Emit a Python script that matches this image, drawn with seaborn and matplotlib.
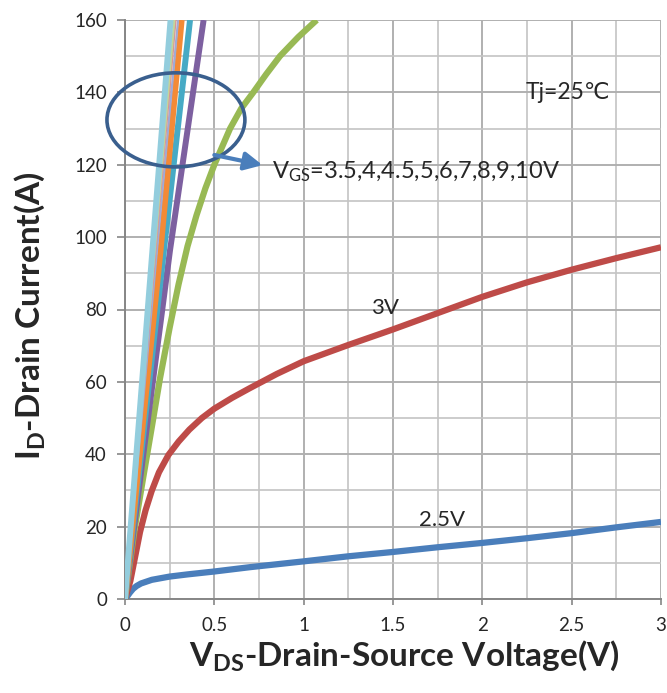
import numpy as np
import pandas as pd
import matplotlib
matplotlib.use("Agg")
import matplotlib.pyplot as plt
import seaborn as sns
from matplotlib.patches import Ellipse
from matplotlib.ticker import MultipleLocator

# ---------------- data ----------------
vgs_labels = ["2.5V", "3V", "3.5V", "4V", "4.5V", "5V", "6V", "7V", "8V", "9V", "10V"]

v_25 = [0, 0.012, 0.028, 0.045, 0.065, 0.09, 0.15, 0.25, 0.35, 0.5, 0.7, 0.85, 1.0, 1.25, 1.5, 1.75, 2.0, 2.25, 2.5, 2.75, 3.0]
i_25 = [0, 0.7, 1.8, 2.8, 3.6, 4.3, 5.3, 6.2, 6.8, 7.6, 8.8, 9.6, 10.4, 11.8, 13.0, 14.3, 15.5, 16.8, 18.2, 19.8, 21.3]

v_3 = [0, 0.015, 0.03, 0.056, 0.084, 0.115, 0.149, 0.19, 0.243, 0.3, 0.36, 0.43, 0.5, 0.6, 0.7, 0.85, 1.0, 1.25, 1.5, 1.75, 2.0, 2.25, 2.5, 2.75, 3.0]
i_3 = [0, 2.5, 5.0, 11.5, 18.5, 24.5, 29.8, 35.0, 39.8, 43.5, 46.8, 50.0, 52.6, 55.6, 58.3, 62.2, 65.7, 70.2, 74.5, 79.0, 83.5, 87.5, 91.0, 94.2, 97.2]

v_35 = [0, 0.056, 0.1, 0.15, 0.196, 0.25, 0.3, 0.35, 0.4, 0.45, 0.5, 0.588, 0.65, 0.718, 0.79, 0.867, 0.97, 1.073]
i_35 = [0, 20, 33, 47.5, 61, 75, 87, 97.5, 106, 113.5, 120, 130, 135.5, 140, 145, 150, 155.3, 160]

v_4 = [0, 0.1, 0.252, 0.44]
i_4 = [0, 39, 96.4, 160]

v_45 = [0, 0.218, 0.364]
i_45 = [0, 96.4, 160]

v_5 = [0, 0.199, 0.317]
i_5 = [0, 96.4, 160]

v_6 = [0, 0.297]
i_6 = [0, 160]

v_7 = [0, 0.283]
i_7 = [0, 160]

v_8 = [0, 0.276]
i_8 = [0, 160]

v_9 = [0, 0.262]
i_9 = [0, 160]

v_10 = [0, 0.255]
i_10 = [0, 160]

x_ticks = [0, 0.5, 1, 1.5, 2, 2.5, 3]
x_tick_labels = ["0", "0.5", "1", "1.5", "2", "2.5", "3"]
y_ticks = [0, 20, 40, 60, 80, 100, 120, 140, 160]

# ---------------- style ----------------
sns.set_theme(style="white")
plt.rcParams["font.family"] = ["Lato", "DejaVu Sans"]
plt.rcParams["mathtext.fontset"] = "custom"
plt.rcParams["mathtext.rm"] = "Lato"
plt.rcParams["mathtext.it"] = "Lato:italic"
plt.rcParams["mathtext.bf"] = "Lato:bold"

colors = ["#4A7EBB", "#BE4B48", "#98B954", "#7D60A0", "#46AAC5", "#F38A35",
          "#A0AAD6", "#DA9694", "#C3D69B", "#B9CDE5", "#93CDDD"]
widths = [4.5, 4.5, 4.5, 4.3, 4.3, 4.3, 1.6, 1.6, 1.6, 1.6, 4.3]

curves_v = [v_25, v_3, v_35, v_4, v_45, v_5, v_6, v_7, v_8, v_9, v_10]
curves_i = [i_25, i_3, i_35, i_4, i_45, i_5, i_6, i_7, i_8, i_9, i_10]

frames = []
for lab, vv, ii in zip(vgs_labels, curves_v, curves_i):
    frames.append(pd.DataFrame({"VDS": vv, "ID": ii, "VGS": lab}))
df = pd.concat(frames, ignore_index=True)

fig = plt.figure(figsize=(6.67, 6.93), dpi=100)
ax = fig.add_axes([125 / 667, 1 - 599 / 693, 536 / 667, 579 / 693])

for k, lab in enumerate(vgs_labels):
    sub = df[df["VGS"] == lab]
    sns.lineplot(data=sub, x="VDS", y="ID", color=colors[k], lw=widths[k],
                 sort=False, estimator=None, ax=ax, legend=False,
                 solid_capstyle="butt", solid_joinstyle="round", zorder=3 + k)

ax.set_xlim(0, 3)
ax.set_ylim(0, 160)
ax.set_xticks(x_ticks)
ax.set_xticklabels(x_tick_labels)
ax.set_yticks(y_ticks)
ax.xaxis.set_minor_locator(MultipleLocator(0.25))
ax.yaxis.set_minor_locator(MultipleLocator(10))
ax.grid(which="major", color="#B0B0B0", lw=1.4, zorder=0)
ax.grid(which="minor", color="#C4C4C4", lw=1.2, zorder=0)
ax.set_axisbelow(True)

for s in ["top", "right"]:
    ax.spines[s].set_visible(False)
for s in ["left", "bottom"]:
    ax.spines[s].set_color("#868686")
    ax.spines[s].set_linewidth(1.4)

ax.tick_params(axis="y", which="major", direction="out", length=6, width=1.2,
               color="#868686", labelsize=13.5, pad=7, left=True)
ax.tick_params(axis="x", which="major", direction="out", length=4, width=1.2,
               color="#868686", labelsize=13.5, pad=9, bottom=True)
ax.tick_params(which="minor", length=0)

ax.set_xlabel(r"$\mathbf{V}_{\mathbf{DS}}$-Drain-Source Voltage(V)",
              fontsize=24, fontweight="bold")
ax.xaxis.set_label_coords(0.522, -0.068)
ax.set_ylabel(r"$\mathbf{I}_{\mathbf{D}}$-Drain Current(A)",
              fontsize=24, fontweight="bold")
ax.yaxis.set_label_coords(-0.145, 0.49)

# annotations
ax.text(0.823, 118, r"V$_{\mathrm{GS}}$=3.5,4,4.5,5,6,7,8,9,10V", fontsize=17,
        ha="left", va="center", zorder=20)
ax.text(2.24, 140, "Tj=25℃", fontsize=16.5, ha="left", va="center",
        family=["Lato", "DejaVu Sans"], zorder=20)
ax.text(1.455, 80.5, "3V", fontsize=16, ha="center", va="center", zorder=20)
ax.text(1.774, 21.8, "2.5V", fontsize=16, ha="center", va="center", zorder=20)

ell = Ellipse((0.285, 132.4), 0.772, 26, fill=False, ec="#3A5F8E", lw=2.6,
              clip_on=False, zorder=25)
ax.add_patch(ell)
ax.annotate("", xy=(0.77, 119.9), xytext=(0.5, 122.7),
            arrowprops=dict(arrowstyle="-|>,head_width=0.45,head_length=0.9",
                            color="#4A7EBB", lw=3, shrinkA=0, shrinkB=0),
            zorder=26)

fig.savefig("out.png", dpi=100)
